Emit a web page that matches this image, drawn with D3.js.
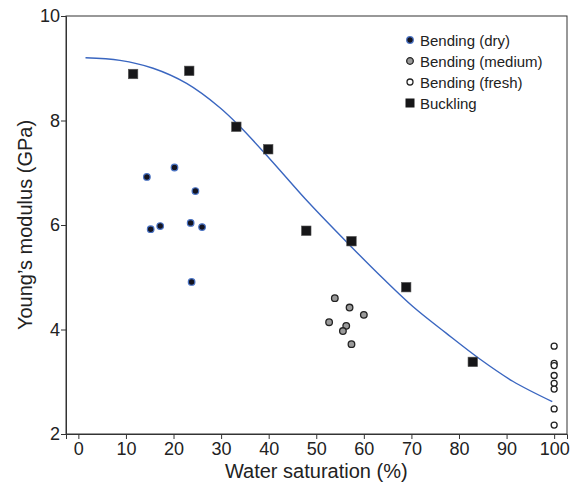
<!DOCTYPE html>
<html>
<head>
<meta charset="utf-8">
<script src="https://cdn.jsdelivr.net/npm/d3@7"></script>
<style>
  body { margin: 0; background: #fff; }
  text { font-family: "Liberation Sans", Arial, Helvetica, sans-serif; fill: #222; }
</style>
</head>
<body>
<svg id="chart" width="576" height="492"></svg>
<script>
// data
var dryX = [14.4, 20.2, 24.6, 15.2, 17.2, 23.6, 26.0, 23.8];
var dryY = [6.92, 7.10, 6.65, 5.92, 5.98, 6.04, 5.96, 4.91];

var mediumX = [53.9, 57.0, 60.0, 52.7, 56.3, 55.6, 57.4];
var mediumY = [4.60, 4.42, 4.28, 4.14, 4.07, 3.97, 3.72];

var freshX = [100, 100, 100, 100, 100, 100, 100, 100];
var freshY = [3.68, 3.35, 3.31, 3.12, 2.97, 2.86, 2.48, 2.17];

var bucklingX = [11.5, 23.3, 33.2, 39.9, 47.9, 57.4, 68.9, 82.9];
var bucklingY = [8.89, 8.95, 7.88, 7.45, 5.89, 5.69, 4.81, 3.38];

// fitted curve
var curveX = [1.5, 8.75, 15.7, 22.75, 29.7, 34.0, 40.3, 48.5, 57.4, 64.0, 70.3, 77.3, 84.3, 91.3, 99.6];
var curveY = [9.20, 9.15, 9.00, 8.71, 8.25, 7.88, 7.26, 6.42, 5.58, 4.98, 4.44, 3.93, 3.44, 3.01, 2.62];

var xTicks = [0, 10, 20, 30, 40, 50, 60, 70, 80, 90, 100];
var yTicks = [2, 4, 6, 8, 10];

var legendLabels = ["Bending (dry)", "Bending (medium)", "Bending (fresh)", "Buckling"];

var margin = {top: 16, right: 9, bottom: 58, left: 66};
var width = 576 - margin.left - margin.right;
var height = 492 - margin.top - margin.bottom;

var svg = d3.select("#chart");
var g = svg.append("g").attr("transform", "translate(" + margin.left + "," + margin.top + ")");

var x = d3.scaleLinear().domain([-2.6, 102.7]).range([0, width]);
var y = d3.scaleLinear().domain([2, 10]).range([height, 0]);

function zip(xs, ys) {
    return xs.map(function(v, i) { return {x: v, y: ys[i]}; });
}

// frame
g.append("rect")
    .attr("width", width).attr("height", height)
    .attr("fill", "none").attr("stroke", "#333").attr("stroke-width", 1);

var xAxis = g.append("g")
    .attr("transform", "translate(0," + height + ")")
    .call(d3.axisBottom(x).tickValues(xTicks).tickSize(5).tickPadding(3));

var yAxis = g.append("g")
    .call(d3.axisLeft(y).tickValues(yTicks).tickSize(5).tickPadding(1));

[xAxis, yAxis].forEach(function(ax) {
    ax.select(".domain").attr("stroke", "#333");
    ax.selectAll(".tick line").attr("stroke", "#333");
    ax.selectAll(".tick text")
        .attr("font-family", "Liberation Sans, Arial, sans-serif")
        .attr("font-size", 18).attr("fill", "#222");
});

// axis titles
g.append("text")
    .attr("x", x(50)).attr("y", height + 44)
    .attr("text-anchor", "middle").attr("font-size", 20)
    .text("Water saturation (%)");

g.append("text")
    .attr("transform", "translate(" + (-34) + "," + (height / 2) + ") rotate(-90)")
    .attr("text-anchor", "middle").attr("font-size", 20)
    .text("Young\u2019s modulus (GPa)");

// model curve
var line = d3.line()
    .x(function(d) { return x(d.x); })
    .y(function(d) { return y(d.y); })
    .curve(d3.curveCatmullRom.alpha(0.5));

g.append("path")
    .datum(zip(curveX, curveY))
    .attr("d", line)
    .attr("fill", "none").attr("stroke", "#3a66c0").attr("stroke-width", 1.4);

// bending points
g.selectAll(".dry")
    .data(zip(dryX, dryY)).enter()
    .append("circle").attr("class", "dry")
    .attr("cx", d => x(d.x)).attr("cy", d => y(d.y)).attr("r", 3.3)
    .attr("fill", "#141420").attr("stroke", "#4a73c4").attr("stroke-width", 1.2);

g.selectAll(".medium")
    .data(zip(mediumX, mediumY)).enter()
    .append("circle").attr("class", "medium")
    .attr("cx", d => x(d.x)).attr("cy", d => y(d.y)).attr("r", 3.3)
    .attr("fill", "#9a9a9a").attr("stroke", "#222").attr("stroke-width", 1.3);

g.selectAll(".fresh")
    .data(zip(freshX, freshY)).enter()
    .append("circle").attr("class", "fresh")
    .attr("cx", d => x(d.x)).attr("cy", d => y(d.y)).attr("r", 3)
    .attr("fill", "#fff").attr("stroke", "#222").attr("stroke-width", 1.3);

// buckling squares
var sq = 9.5;
g.selectAll(".buckling")
    .data(zip(bucklingX, bucklingY)).enter()
    .append("rect").attr("class", "buckling")
    .attr("x", d => x(d.x) - sq / 2).attr("y", d => y(d.y) - sq / 2)
    .attr("width", sq).attr("height", sq)
    .attr("fill", "#161618").attr("stroke", "#555").attr("stroke-width", 0.6);

// legend
var legend = svg.append("g").attr("transform", "translate(410,40)");
var rowGap = 21;
legendLabels.forEach(function(label, i) {
    var row = legend.append("g").attr("transform", "translate(0," + (i * rowGap) + ")");
    if (i == 0) {
        row.append("circle").attr("r", 3.3).attr("fill", "#141420").attr("stroke", "#4a73c4").attr("stroke-width", 1.2);
    } else if (i == 1) {
        row.append("circle").attr("r", 3.3).attr("fill", "#9a9a9a").attr("stroke", "#222").attr("stroke-width", 1.3);
    } else if (i == 2) {
        row.append("circle").attr("r", 3).attr("fill", "#fff").attr("stroke", "#222").attr("stroke-width", 1.3);
    } else {
        row.append("rect").attr("x", -4.5).attr("y", -4.5).attr("width", 9).attr("height", 9).attr("fill", "#161618");
    }
    row.append("text")
        .attr("x", 10).attr("y", 5.5)
        .attr("font-size", 15)
        .text(label);
});
</script>
</body>
</html>
